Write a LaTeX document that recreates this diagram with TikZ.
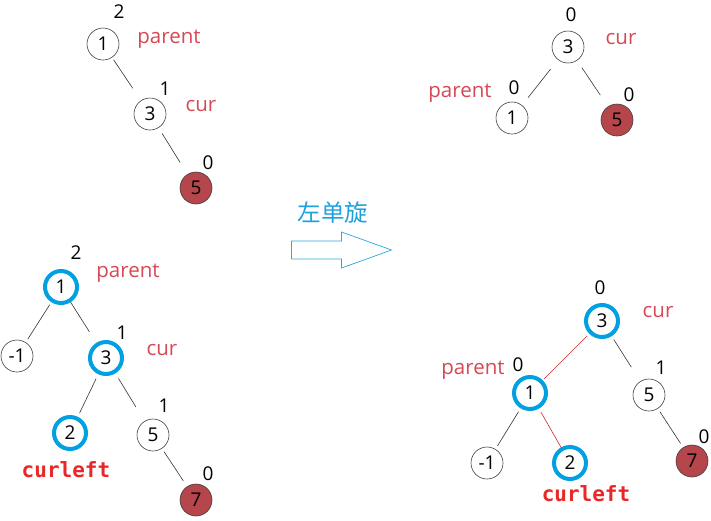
\documentclass[tikz,border=0pt]{standalone}
\usepackage{fontspec}
\setmainfont{Open Sans}
\newfontfamily\cjk{Noto Sans CJK SC}
\newfontfamily\monob{DejaVu Sans Mono}
\begin{document}
\begin{tikzpicture}[x=1pt,y=-1pt,
  nd/.style={circle,draw=black!75,line width=0.6pt,minimum size=32pt,inner sep=0pt,outer sep=0pt,font=\fontsize{19}{19}\selectfont},
  hot/.style={nd,fill=redfill},
  ring/.style={nd,draw=ringblue,line width=4pt},
  bal/.style={font=\fontsize{19}{19}\selectfont,inner sep=0pt},
  lab/.style={text=labred,font=\fontsize{20.5}{20.5}\selectfont,inner sep=0pt},
  cl/.style={text=clred,font=\fontsize{21}{21}\selectfont\monob\bfseries,inner sep=0pt},
  ed/.style={draw=black!80,line width=0.6pt},
  red/.style={draw=edred,line width=0.6pt}]
\definecolor{redfill}{RGB}{181,70,76}
\definecolor{ringblue}{RGB}{0,160,226}
\definecolor{labred}{RGB}{214,72,86}
\definecolor{clred}{RGB}{232,40,40}
\definecolor{edred}{RGB}{200,40,50}
\definecolor{arrblue}{RGB}{40,170,215}
\definecolor{txtblue}{RGB}{30,160,222}
\useasboundingbox (0,0) rectangle (711,520);
% ---- top-left
\node[nd] (a1) at (103,44) {1};
\node[nd] (a3) at (150,114) {3};
\node[hot] (a5) at (196,188) {5};
\node[bal] (ab1) at (119,12) {2};
\node[bal] (ab3) at (165,89) {1};
\node[bal] (ab5) at (208,163) {0};
\node[lab] (ap) at (169,39) {parent};
\node[lab] (ac) at (201,106) {cur};
\draw[ed,shorten <=3pt,shorten >=15pt] (a1) -- (a3);
\draw[ed,shorten <=7pt,shorten >=14pt] (a3) -- (a5);
% ---- bottom-left
\node[ring] (b1) at (61,287) {1};
\node[nd] (bm) at (17,356) {-1};
\node[ring] (b3) at (106,358) {3};
\node[ring] (b2) at (70,433) {2};
\node[nd] (b5) at (153,435) {5};
\node[hot] (b7) at (196,500) {7};
\node[bal] (bb1) at (76,253) {2};
\node[bal] (bb3) at (122,333) {1};
\node[bal] (bb5) at (164,406) {1};
\node[bal] (bb7) at (208,474) {0};
\node[lab] (bp) at (128,273) {parent};
\node[lab] (bc) at (162,350) {cur};
\node[cl] (bcl) at (66,470) {curleft};
\draw[ed,shorten <=5pt,shorten >=4pt] (b1) -- (bm);
\draw[ed,shorten <=2pt,shorten >=15pt] (b1) -- (b3);
\draw[ed,shorten <=7pt,shorten >=6pt] (b3) -- (b2);
\draw[ed,shorten <=8pt,shorten >=17pt] (b3) -- (b5);
\draw[ed,shorten <=4pt,shorten >=7pt] (b5) -- (b7);
% ---- arrow
\node[text=txtblue,font=\fontsize{23.5}{23.5}\selectfont\cjk,inner sep=0pt] (rot) at (333,213) {左单旋};
\draw[arrblue,line width=0.7pt] (291.5,241) -- (341.5,241) -- (341.5,232) -- (391.5,250) -- (341.5,268) -- (341.5,259) -- (291.5,259) -- cycle;
% ---- top-right
\node[nd] (c3) at (568,47) {3};
\node[nd] (c1) at (512,118) {1};
\node[hot] (c5) at (617,120) {5};
\node[bal] (cb3) at (571,15) {0};
\node[bal] (cb1) at (514,88) {0};
\node[bal] (cb5) at (629,95) {0};
\node[lab] (cc) at (621,39) {cur};
\node[lab] (cp) at (460,93) {parent};
\draw[ed,shorten <=12pt,shorten >=10pt] (c3) -- (c1);
\draw[ed,shorten <=9pt,shorten >=14pt] (c3) -- (c5);
% ---- bottom-right
\node[ring] (d3) at (602,321) {3};
\node[ring] (d1) at (530,393) {1};
\node[nd] (dm) at (487,463) {-1};
\node[ring] (d2) at (570,463) {2};
\node[nd] (d5) at (649,395) {5};
\node[hot] (d7) at (692,461) {7};
\node[bal] (db3) at (600,288) {0};
\node[bal] (db1) at (518,365) {0};
\node[bal] (db5) at (661,368) {1};
\node[bal] (db7) at (704,437) {0};
\node[lab] (dc) at (658,312) {cur};
\node[lab] (dp) at (473,370) {parent};
\node[cl] (dcl) at (586,494) {curleft};
\draw[red,shorten <=5pt,shorten >=4pt] (d3) -- (d1);
\draw[ed,shorten <=6pt,shorten >=4pt] (d1) -- (dm);
\draw[red,shorten <=6pt,shorten >=1pt] (d1) -- (d2);
\draw[ed,shorten <=6pt,shorten >=17pt] (d3) -- (d5);
\draw[ed,shorten <=4pt,shorten >=5pt] (d5) -- (d7);
\end{tikzpicture}
\end{document}
